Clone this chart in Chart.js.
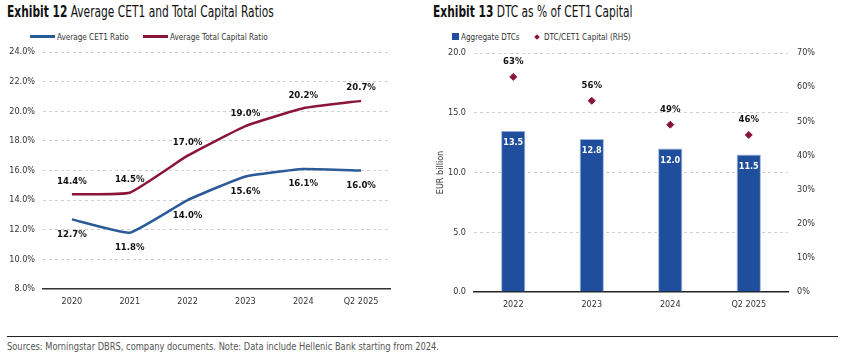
<!DOCTYPE html>
<html><head><meta charset="utf-8">
<script src="https://cdn.jsdelivr.net/npm/chart.js@4/dist/chart.umd.min.js"></script>
<style>
html,body{margin:0;padding:0;background:#fff;}
body{width:866px;height:355px;position:relative;overflow:hidden;font-family:"DejaVu Sans Condensed","Liberation Sans Narrow",sans-serif;color:#222;}
.sx{display:inline-block;transform-origin:left center;white-space:nowrap;}
.title{position:absolute;top:3px;font-size:15px;white-space:nowrap;color:#111;}
.title .sx{transform:scaleX(0.79);}
.title b{font-weight:bold;}
.legend{position:absolute;top:31px;font-size:9.5px;color:#333;white-space:nowrap;}
.legend .item{position:absolute;top:0;display:flex;align-items:center;}
.legend .sx{transform:scaleX(0.85);}
.sw-line{display:inline-block;width:25px;height:2.5px;margin-right:2px;}
.sw-sq{display:inline-block;width:7px;height:7px;margin-right:2px;background:#1f4e9c;}
.sw-dm{display:inline-block;width:4px;height:4px;margin:0 5px 0 2px;background:#8b1538;transform:rotate(45deg);}
canvas{position:absolute;}
#rule{position:absolute;left:7px;top:336px;width:831px;height:1px;background:#222;}
#src{position:absolute;left:7px;top:340px;font-size:10.5px;color:#555;white-space:nowrap;}
#src .sx{transform:scaleX(0.88);}
</style>
</head><body>
<div class="title" style="left:7px"><span class="sx"><b>Exhibit 12</b> Average CET1 and Total Capital Ratios</span></div>
<div class="title" style="left:433px"><span class="sx"><b>Exhibit 13</b> DTC as % of CET1 Capital</span></div>
<div class="legend" style="left:30px;width:400px">
  <span class="item" style="left:0"><span class="sw-line" style="background:#2a5a98"></span><span class="sx">Average CET1 Ratio</span></span>
  <span class="item" style="left:113px"><span class="sw-line" style="background:#8b1538"></span><span class="sx">Average Total Capital Ratio</span></span>
</div>
<div class="legend" style="left:452px;width:400px">
  <span class="item" style="left:0"><span class="sw-sq"></span><span class="sx">Aggregate DTCs</span></span>
  <span class="item" style="left:81px"><span class="sw-dm"></span><span class="sx">DTC/CET1 Capital (RHS)</span></span>
</div>
<canvas id="c1" width="430" height="300" style="left:0;top:25px;width:430px;height:300px"></canvas>
<canvas id="c2" width="436" height="300" style="left:430px;top:25px;width:436px;height:300px"></canvas>
<div id="rule"></div>
<div id="src"><span class="sx">Sources: Morningstar DBRS, company documents. Note: Data include Hellenic Bank starting from 2024.</span></div>
<script>
// ---- Data ----
const years1 = ["2020", "2021", "2022", "2023", "2024", "Q2 2025"];
const cet1Ratio = [12.7, 11.8, 14.0, 15.6, 16.1, 16.0];
const totalCapitalRatio = [14.4, 14.5, 17.0, 19.0, 20.2, 20.7];
const years2 = ["2022", "2023", "2024", "Q2 2025"];
const aggregateDTCs = [13.5, 12.8, 12.0, 11.5];
const dtcToCet1 = [63, 56, 49, 46];

const FONT = '"DejaVu Sans Condensed","Liberation Sans Narrow",sans-serif';
Chart.defaults.font.family = FONT;
Chart.defaults.color = '#333';

const labelPlugin = {
  id: 'valueLabels',
  afterDatasetsDraw(chart) {
    const ctx = chart.ctx;
    chart.data.datasets.forEach((ds, i) => {
      if (!ds.lbl) return;
      const meta = chart.getDatasetMeta(i);
      meta.data.forEach((el, j) => {
        const v = ds.data[j];
        const txt = ds.lbl.fmt(v);
        let y = el.y;
        if (ds.lbl.pos === 'above') y -= ds.lbl.off;
        else y += ds.lbl.off;
        ctx.save();
        ctx.font = 'bold ' + ds.lbl.size + 'px ' + FONT;
        ctx.fillStyle = ds.lbl.color;
        ctx.textAlign = 'center';
        ctx.textBaseline = 'middle';
        ctx.fillText(txt, el.x, y);
        ctx.restore();
      });
    });
  }
};

const tickFont = { size: 9 };

new Chart(document.getElementById('c1'), {
  type: 'line',
  data: {
    labels: years1,
    datasets: [
      { label: 'Average CET1 Ratio', data: cet1Ratio, borderColor: '#2a5a98', borderWidth: 2.5,
        pointRadius: 0, tension: 0.12, fill: false,
        lbl: { pos: 'below', off: 15, color: '#111', size: 9.5, fmt: v => v.toFixed(1) + '%' } },
      { label: 'Average Total Capital Ratio', data: totalCapitalRatio, borderColor: '#8b1538', borderWidth: 2.5,
        pointRadius: 0, tension: 0.12, fill: false,
        lbl: { pos: 'above', off: 13, color: '#111', size: 9.5, fmt: v => v.toFixed(1) + '%' } }
    ]
  },
  options: {
    responsive: false, animation: false, devicePixelRatio: 1,
    layout: { padding: { left: 0, right: 40, top: 27, bottom: 12 } },
    plugins: { legend: { display: false }, tooltip: { enabled: false } },
    scales: {
      x: { offset: true, grid: { display: false, drawTicks: false },
           border: { display: true, color: '#333', width: 1.5 },
           ticks: { padding: 7, font: tickFont, color: '#333', maxRotation: 0 },
           afterFit: s => { s.height = 24; } },
      y: { min: 8, max: 24,
           grid: { color: c => c.index === 0 ? 'rgba(0,0,0,0)' : '#cfcfcf', lineWidth: 1, drawTicks: false },
           border: { display: false, dash: [3, 3] },
           ticks: { stepSize: 2, padding: 8, font: tickFont, color: '#333', callback: v => v.toFixed(1) + '%' },
           afterFit: s => { s.width = 43; } }
    }
  },
  plugins: [labelPlugin]
});

new Chart(document.getElementById('c2'), {
  type: 'bar',
  data: {
    labels: years2,
    datasets: [
      { type: 'scatter', label: 'DTC/CET1 Capital (RHS)', data: dtcToCet1, yAxisID: 'y1',
        backgroundColor: '#8b1538', borderColor: '#8b1538', pointStyle: 'rectRot', pointRadius: 3.5, showLine: false,
        lbl: { pos: 'above', off: 15, color: '#111', size: 9.5, fmt: v => v + '%' } },
      { type: 'bar', label: 'Aggregate DTCs', data: aggregateDTCs, yAxisID: 'y',
        backgroundColor: '#1f4e9c', borderColor: '#9fb9e0', borderWidth: 1,
        categoryPercentage: 1, barPercentage: 0.31,
        lbl: { pos: 'inside', off: 12, color: '#fff', size: 9, fmt: v => v.toFixed(1) } }
    ]
  },
  options: {
    responsive: false, animation: false, devicePixelRatio: 1,
    layout: { padding: { left: 5, right: 38, top: 28, bottom: 9 } },
    plugins: { legend: { display: false }, tooltip: { enabled: false } },
    scales: {
      x: { type: 'category', offset: true, grid: { display: false, drawTicks: false },
           border: { display: true, color: '#222', width: 1.5 },
           ticks: { padding: 7, font: tickFont, color: '#333', maxRotation: 0 },
           afterFit: s => { s.height = 24; } },
      y: { position: 'left', min: 0, max: 20, border: { display: false, dash: [3, 3] },
           grid: { color: c => c.index === 0 ? 'rgba(0,0,0,0)' : '#cfcfcf', lineWidth: 1, drawTicks: false },
           title: { display: true, text: 'EUR billion', font: { size: 9 }, color: '#333', padding: 0 },
           ticks: { stepSize: 5, padding: 8, font: tickFont, color: '#333', callback: v => v.toFixed(1) },
           afterFit: s => { s.width = 39; } },
      y1: { position: 'right', min: 0, max: 70, border: { display: false },
           grid: { display: false, drawTicks: false },
           ticks: { stepSize: 10, padding: 9, font: tickFont, color: '#333', callback: v => v + '%' },
           afterFit: s => { s.width = 40; } }
    }
  },
  plugins: [labelPlugin]
});
</script>
</body></html>
